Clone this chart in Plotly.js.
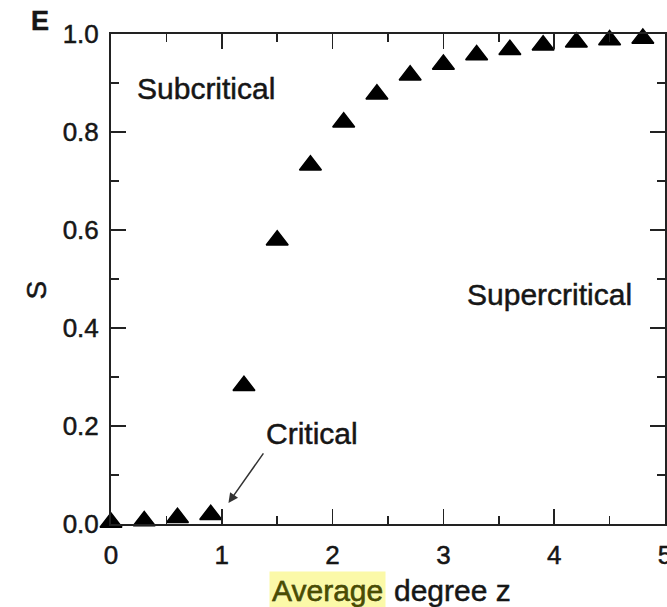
<!DOCTYPE html>
<html>
<head>
<meta charset="utf-8">
<script src="https://cdn.plot.ly/plotly-3.0.1.min.js"></script>
<style>
  html, body { margin: 0; padding: 0; background: #fff; }
  #chart { width: 667px; height: 607px; }
  /* slightly heavier glyphs, like a printed Helvetica */
  #chart svg text { stroke: currentColor; stroke-width: 0.45px; paint-order: stroke; }
</style>
</head>
<body>
<div id="chart"></div>
<script>
// Giant component size S versus average degree z
const degreeZ = [0, 0.3, 0.6, 0.9, 1.2, 1.5, 1.8, 2.1, 2.4, 2.7, 3.0, 3.3, 3.6, 3.9, 4.2, 4.5, 4.8];
const sizeS   = [0.003, 0.006, 0.013, 0.019, 0.282, 0.579, 0.732, 0.820, 0.877, 0.916, 0.938, 0.957, 0.968, 0.977, 0.983, 0.988, 0.991];

const xTickVals = [0, 1, 2, 3, 4, 5];
const xTickText = ['0', '1', '2', '3', '4', '5'];
const yTickVals = [0, 0.2, 0.4, 0.6, 0.8, 1.0];
const yTickText = ['0.0', '0.2', '0.4', '0.6', '0.8', '1.0'];

const FONT = 'Liberation Sans, Arial, Helvetica, sans-serif';
const INK = '#161616';

const trace = {
  x: degreeZ,
  y: sizeS,
  type: 'scatter',
  mode: 'markers',
  cliponaxis: false,
  marker: { symbol: 'triangle-up', size: 19, color: '#000', line: { color: '#000', width: 1.5 } },
  hoverinfo: 'x+y'
};

const axisCommon = {
  showline: true,
  linecolor: '#222',
  linewidth: 2,
  mirror: 'ticks',
  ticks: 'inside',
  ticklen: 15,
  tickwidth: 1.5,
  tickcolor: '#222',
  showgrid: false,
  zeroline: false,
  ticklabeloverflow: 'allow',
  tickfont: { family: FONT, size: 26, color: INK }
};

const layout = {
  width: 667,
  height: 607,
  margin: { l: 111, r: 2, t: 34, b: 83 },
  paper_bgcolor: '#fff',
  plot_bgcolor: '#fff',
  showlegend: false,
  xaxis: Object.assign({}, axisCommon, {
    range: [0, 5],
    tickmode: 'array',
    tickvals: xTickVals,
    ticktext: xTickText,
    ticklabelstandoff: 7,
    minor: { dtick: 0.5, ticks: 'inside', ticklen: 8, tickwidth: 1.5, tickcolor: '#222' }
  }),
  yaxis: Object.assign({}, axisCommon, {
    range: [0, 1],
    tickmode: 'array',
    tickvals: yTickVals,
    ticktext: yTickText,
    ticklabelstandoff: 5,
    minor: { dtick: 0.1, ticks: 'inside', ticklen: 8, tickwidth: 1.5, tickcolor: '#222' }
  }),
  annotations: [
    { text: '<b>E</b>', xref: 'paper', yref: 'paper', x: -0.128, y: 1.026,
      xanchor: 'center', yanchor: 'middle', showarrow: false,
      font: { family: FONT, size: 27, color: INK } },
    { text: 'Subcritical', xref: 'x', yref: 'y', x: 0.86, y: 0.889,
      xanchor: 'center', yanchor: 'middle', showarrow: false,
      font: { family: FONT, size: 30, color: INK } },
    { text: 'Supercritical', xref: 'x', yref: 'y', x: 3.956, y: 0.468,
      xanchor: 'center', yanchor: 'middle', showarrow: false,
      font: { family: FONT, size: 30, color: INK } },
    { text: 'Critical', xref: 'x', yref: 'y', x: 1.814, y: 0.184,
      xanchor: 'center', yanchor: 'middle', showarrow: false,
      font: { family: FONT, size: 30, color: INK } },
    // arrow pointing at the critical point
    { text: '', xref: 'x', yref: 'y', x: 1.06, y: 0.043,
      showarrow: true, ax: 36, ay: -51, arrowhead: 2, arrowsize: 1.3,
      arrowwidth: 1.5, arrowcolor: '#333' },
    // y axis title
    { text: 'S', xref: 'paper', yref: 'paper', x: -0.134, y: 0.478,
      xanchor: 'center', yanchor: 'middle', textangle: -90, showarrow: false,
      font: { family: FONT, size: 28, color: INK } },
    // x axis title, first word highlighted
    { text: 'Average', xref: 'paper', yref: 'paper', x: 0.497, y: -0.135,
      xanchor: 'right', yanchor: 'middle', showarrow: false,
      bgcolor: '#fbf9a8', borderpad: 2,
      font: { family: FONT, size: 30, color: '#4a4d00' } },
    { text: 'degree z', xref: 'paper', yref: 'paper', x: 0.507, y: -0.135,
      xanchor: 'left', yanchor: 'middle', showarrow: false,
      font: { family: FONT, size: 30, color: INK } }
  ]
};

Plotly.newPlot('chart', [trace], layout, { displayModeBar: false, staticPlot: true });
</script>
</body>
</html>
